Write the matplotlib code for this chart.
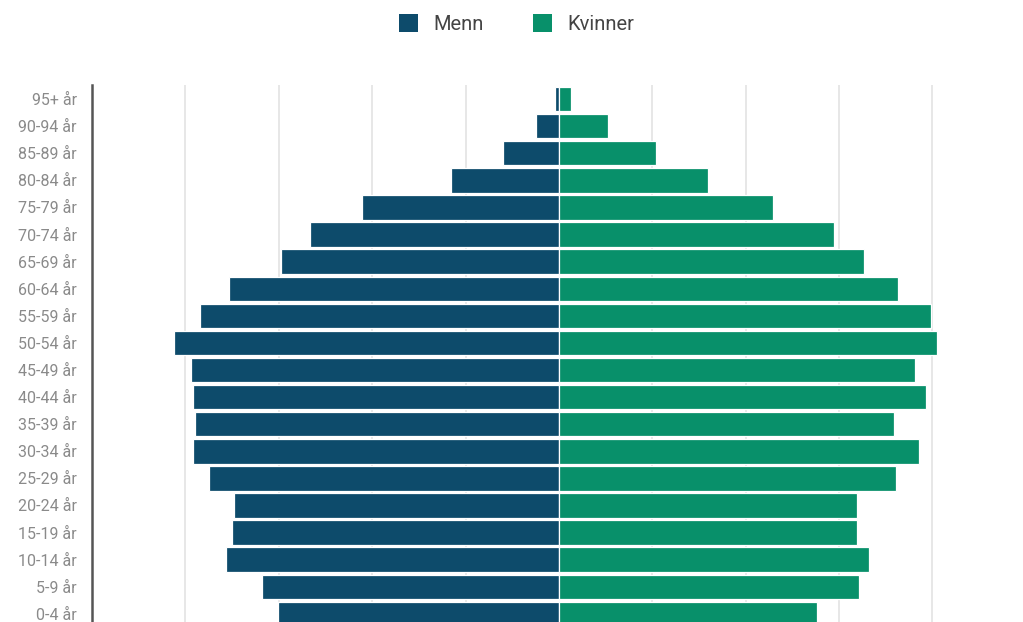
import matplotlib
matplotlib.use("Agg")
import matplotlib.pyplot as plt
from matplotlib.patches import Patch
import numpy as np

plt.rcParams["font.family"] = ["Roboto", "DejaVu Sans"]

AGES = ["0-4 år", "5-9 år", "10-14 år", "15-19 år", "20-24 år", "25-29 år",
        "30-34 år", "35-39 år", "40-44 år", "45-49 år", "50-54 år", "55-59 år",
        "60-64 år", "65-69 år", "70-74 år", "75-79 år", "80-84 år", "85-89 år",
        "90-94 år", "95+ år"]
# share of population (%); gridlines every 1 unit
MENN = [3.01, 3.18, 3.56, 3.50, 3.48, 3.75, 3.92, 3.90, 3.92, 3.94,
        4.12, 3.84, 3.53, 2.98, 2.67, 2.11, 1.16, 0.60, 0.24, 0.04]
KVINNER = [2.76, 3.21, 3.32, 3.19, 3.19, 3.61, 3.86, 3.59, 3.93, 3.81,
           4.05, 3.99, 3.63, 3.27, 2.95, 2.29, 1.60, 1.04, 0.53, 0.13]

C_MENN = "#0d4b6b"
C_KV = "#08906a"

fig = plt.figure(figsize=(10.23, 6.22), dpi=100)
ax = fig.add_axes([92 / 1023, 0, 931 / 1023, 1 - 85 / 622])

y = np.arange(len(AGES))
ax.barh(y, [-v for v in MENN], height=0.9, color=C_MENN, edgecolor="white",
        linewidth=0.9, zorder=3)
ax.barh(y, KVINNER, height=0.9, color=C_KV, edgecolor="white",
        linewidth=0.9, zorder=3)

ax.set_xlim(-5, 4.97)
ax.set_ylim(-0.3, 19.52)
for g in [-4, -3, -2, -1, 1, 2, 3, 4]:
    ax.axvline(g, color="#e3e3e3", lw=1.2, zorder=1)

ax.set_yticks(y)
ax.set_yticklabels(AGES, fontsize=11.5, color="#8a8a8a")
ax.tick_params(axis="y", length=0, pad=11)
ax.set_xticks([])
for s in ["top", "right", "bottom"]:
    ax.spines[s].set_visible(False)
ax.spines["left"].set_color("#555555")
ax.spines["left"].set_linewidth(1.8)

handles = [Patch(facecolor=C_MENN, label="Menn"), Patch(facecolor=C_KV, label="Kvinner")]
leg = fig.legend(handles=handles, loc="center", bbox_to_anchor=(0.505, 1 - 24 / 622),
                 ncol=2, frameon=False, fontsize=14.5, handlelength=0.95,
                 handleheight=0.95, columnspacing=2.4, handletextpad=0.8)
for t in leg.get_texts():
    t.set_color("#444444")

fig.savefig("out.png", dpi=100)
